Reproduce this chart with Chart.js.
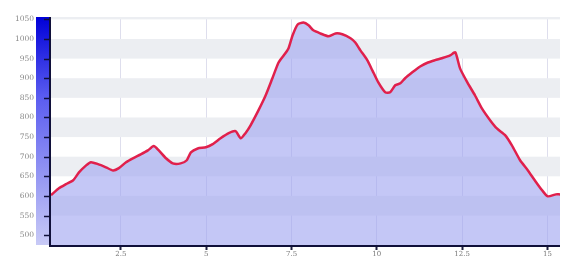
<!DOCTYPE html>
<html lang="en">
<head>
    <meta charset="UTF-8">
    <title>Profil</title>
    <script src="https://cdn.jsdelivr.net/npm/chart.js"></script>
    <style>
        html, body { margin: 0; padding: 0; background: #fff; }
        #wrap { width: 569px; height: 258px; }
    </style>
</head>
<body>
    <div id="wrap"><canvas id="myChart" width="569" height="258"></canvas></div>
    <script>
        // distance (km) et altitude (m)
        const distances = [0.45, 0.69, 0.89, 1.1, 1.27, 1.48, 1.62, 1.83, 2.06, 2.27, 2.44, 2.65, 2.85, 3.08, 3.29, 3.46, 3.61, 3.82, 4.02, 4.25, 4.43, 4.55, 4.75, 4.99, 5.19, 5.42, 5.66, 5.86, 6.01, 6.15, 6.3, 6.53, 6.74, 6.94, 7.12, 7.27, 7.41, 7.53, 7.68, 7.85, 8.0, 8.14, 8.35, 8.58, 8.79, 8.99, 9.23, 9.37, 9.52, 9.72, 9.87, 10.04, 10.25, 10.39, 10.54, 10.69, 10.83, 11.04, 11.27, 11.5, 11.71, 11.91, 12.15, 12.3, 12.44, 12.65, 12.88, 13.08, 13.32, 13.52, 13.76, 13.96, 14.2, 14.43, 14.63, 14.84, 15.01, 15.25, 15.37];
        const altitudes = [602, 620, 630, 640, 660, 678, 686, 681, 673, 665, 671, 686, 696, 706, 716, 727, 716, 696, 683, 683, 691, 711, 721, 724, 732, 747, 760, 765, 747, 760, 780, 818, 856, 900, 940, 958, 976, 1009, 1037, 1042, 1035, 1022, 1014, 1007, 1014, 1012, 1002, 991, 971, 946, 920, 890, 864, 864, 882, 887, 900, 915, 930, 940, 946, 951, 958, 966, 925, 890, 856, 823, 793, 772, 755, 729, 691, 665, 640, 615, 599, 604, 604];
        const xTicks = [2.5, 5, 7.5, 10, 12.5, 15];
        const xTickLabels = ['2.5', '5', '7.5', '10', '12.5', '15'];
        const yTicks = [500, 550, 600, 650, 700, 750, 800, 850, 900, 950, 1000, 1050];

        // bandes horizontales + barre bleue a gauche
        const decor = {
            id: 'decor',
            beforeDatasetsDraw(chart) {
                const { ctx, chartArea: a, scales: { y } } = chart;
                ctx.save();
                const edges = [y.max].concat(yTicks.slice().reverse());
                for (let i = 0; i < edges.length - 1; i++) {
                    if (i % 2 === 0) {
                        const t = y.getPixelForValue(edges[i]);
                        const b = y.getPixelForValue(edges[i + 1]);
                        ctx.fillStyle = '#eceef2';
                        ctx.fillRect(a.left, t, a.right - a.left, b - t);
                    }
                }
                ctx.restore();
            },
            afterDraw(chart) {
                const { ctx, chartArea: a, scales: { y } } = chart;
                ctx.save();
                const g = ctx.createLinearGradient(0, a.top, 0, a.bottom);
                g.addColorStop(0, '#0000d8');
                g.addColorStop(0.35, '#5a5cf0');
                g.addColorStop(1, '#c8caf6');
                ctx.fillStyle = g;
                ctx.fillRect(a.left - 15, a.top, 14, a.bottom - a.top);
                ctx.strokeStyle = '#10103a';
                ctx.lineWidth = 2;
                ctx.beginPath();
                ctx.moveTo(a.left - 1, a.top);
                ctx.lineTo(a.left - 1, a.bottom + 1);
                ctx.lineTo(a.right, a.bottom + 1);
                ctx.stroke();
                ctx.lineWidth = 1.5;
                yTicks.forEach(v => {
                    const p = Math.round(y.getPixelForValue(v)) + 0.5;
                    ctx.beginPath();
                    ctx.moveTo(a.left - 7, p);
                    ctx.lineTo(a.left, p);
                    ctx.stroke();
                });
                ctx.restore();
            }
        };

        const ctx = document.getElementById('myChart').getContext('2d');
        new Chart(ctx, {
            type: 'line',
            data: {
                datasets: [{
                    data: distances.map((d, i) => ({ x: d, y: altitudes[i] })),
                    borderColor: '#e0204c',
                    borderWidth: 2.5,
                    backgroundColor: 'rgba(160, 164, 240, 0.62)',
                    fill: 'start',
                    pointRadius: 0,
                    tension: 0.2
                }]
            },
            options: {
                responsive: false,
                animation: false,
                layout: { padding: { top: 17, right: 9, left: 0, bottom: 0 } },
                plugins: { legend: { display: false }, tooltip: { enabled: false } },
                scales: {
                    x: {
                        type: 'linear',
                        min: 0.45,
                        max: 15.37,
                        afterBuildTicks: s => { s.ticks = xTicks.map(v => ({ value: v })); },
                        afterFit: s => { s.height = 13; s.paddingLeft = 0; s.paddingRight = 0; },
                        border: { display: false },
                        grid: { color: 'rgba(200,200,225,0.6)', tickColor: '#202040', tickLength: 5, tickWidth: 2 },
                        ticks: {
                            padding: 0,
                            font: { family: 'DejaVu Serif', size: 7 },
                            color: '#777',
                            maxRotation: 0,
                            callback: (v) => xTickLabels[xTicks.indexOf(v)]
                        }
                    },
                    y: {
                        min: 475,
                        max: 1056,
                        afterBuildTicks: s => { s.ticks = yTicks.map(v => ({ value: v })); },
                        afterFit: s => { s.width = 51; s.paddingTop = 0; s.paddingBottom = 0; },
                        border: { display: false },
                        grid: { display: false, drawTicks: false },
                        ticks: {
                            padding: 17,
                            font: { family: 'DejaVu Serif', size: 7.5 },
                            color: '#888',
                            callback: (v) => String(v)
                        }
                    }
                }
            },
            plugins: [decor]
        });
    </script>
</body>
</html>
